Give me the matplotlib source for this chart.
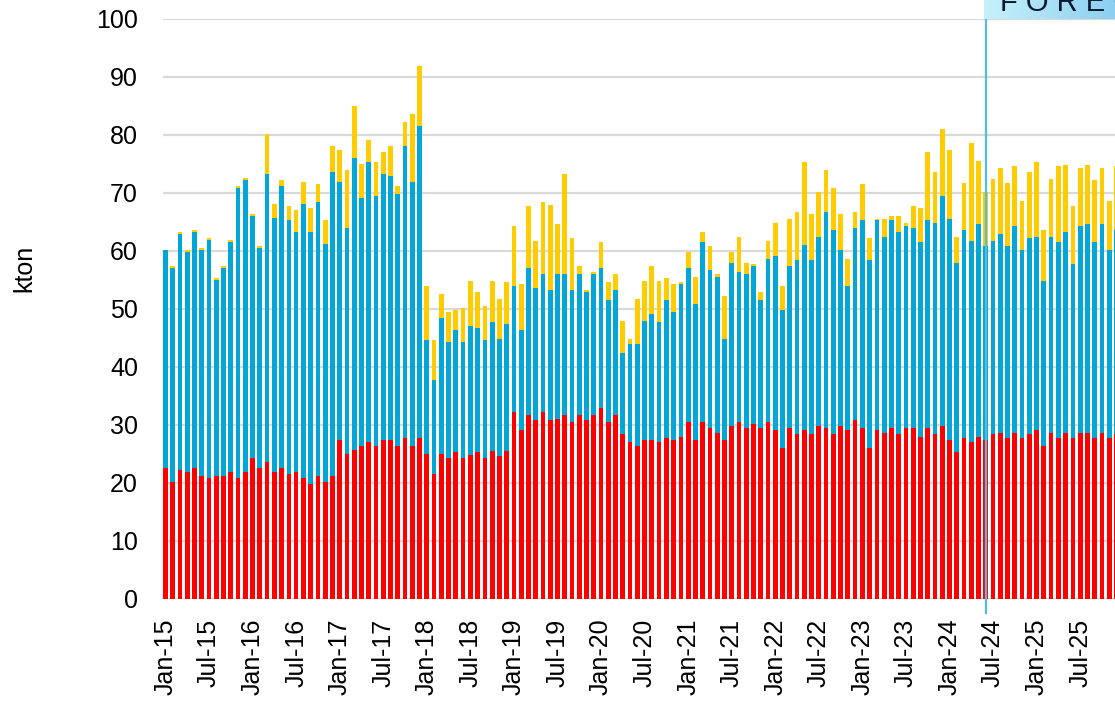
import numpy as np
import pandas as pd
import matplotlib
matplotlib.use("Agg")
import matplotlib.pyplot as plt
from matplotlib.colors import LinearSegmentedColormap

plt.rcParams['font.family'] = ['Liberation Sans', 'DejaVu Sans']

# monthly categories Jan-15 .. Dec-25
months = list(pd.date_range('2015-01-01', periods=132, freq='MS').strftime('%b-%y'))
forecast_start = 'Jun-24'

# bottom segment (red), kton
red = [22.6, 20.2, 22.2, 21.9, 22.6, 21.2, 20.9, 21.2, 21.2, 21.9, 20.9, 21.9,
       24.3, 22.6, 23.6, 21.9, 22.6, 21.6, 21.9, 20.9, 19.8, 21.2, 20.2, 21.2,
       27.4, 25.0, 25.7, 26.4, 27.1, 26.4, 27.4, 27.4, 26.4, 27.8, 26.4, 27.8,
       25.0, 21.6, 25.0, 24.3, 25.3, 24.3, 24.9, 25.3, 24.3, 25.6, 24.6, 25.6,
       32.2, 29.1, 31.8, 30.8, 32.2, 30.8, 31.1, 31.8, 30.5, 31.8, 30.8, 31.8,
       32.9, 30.5, 31.8, 28.4, 27.0, 26.3, 27.4, 27.4, 27.0, 27.7, 27.4, 28.0,
       30.5, 27.4, 30.5, 29.4, 28.7, 27.4, 29.8, 30.5, 29.4, 30.1, 29.4, 30.5,
       29.1, 26.0, 29.4, 28.4, 29.1, 28.4, 29.8, 29.4, 28.4, 29.8, 29.1, 30.8,
       29.4, 26.0, 29.1, 28.7, 29.4, 28.4, 29.4, 29.4, 28.0, 29.4, 28.4, 29.8,
       27.4, 25.3, 27.7, 27.0, 28.0, 27.4, 28.4, 28.7, 27.7, 28.7, 27.7, 28.4,
       29.1, 26.3, 28.7, 27.7, 28.7, 27.7, 28.7, 28.7, 27.7, 28.7, 27.7, 28.4]

# middle segment (blue)
blue = [37.6, 36.9, 40.7, 37.9, 40.7, 39.0, 41.0, 33.8, 35.9, 39.7, 50.0, 50.3,
        41.7, 37.9, 49.7, 43.8, 48.6, 43.7, 41.4, 47.2, 43.5, 47.2, 41.0, 52.4,
        44.5, 39.0, 50.3, 42.7, 48.2, 43.0, 45.9, 45.5, 43.4, 50.3, 45.5, 53.8,
        19.7, 16.2, 23.4, 20.0, 21.0, 20.0, 22.1, 21.4, 20.3, 22.1, 20.3, 21.8,
        21.7, 17.2, 25.2, 22.8, 23.8, 22.4, 24.9, 24.2, 22.7, 24.2, 22.1, 24.2,
        24.1, 21.0, 21.4, 14.1, 16.9, 17.6, 20.6, 21.7, 20.7, 23.8, 22.0, 26.3,
        26.5, 23.4, 31.0, 27.3, 26.9, 17.5, 28.2, 25.8, 26.6, 27.3, 22.1, 28.2,
        30.0, 23.8, 28.0, 30.0, 32.0, 30.0, 32.7, 37.3, 35.2, 30.3, 24.8, 33.1,
        35.9, 32.4, 36.2, 33.8, 35.9, 34.8, 34.9, 34.5, 33.5, 35.9, 36.5, 39.6,
        38.2, 32.7, 35.9, 34.8, 36.6, 33.4, 33.4, 34.2, 33.1, 35.6, 32.4, 33.8,
        33.4, 28.6, 33.8, 33.8, 34.5, 30.0, 35.6, 35.9, 33.8, 35.9, 32.4, 35.2]

# top segment (yellow)
yellow = [0.0, 0.3, 0.4, 0.4, 0.3, 0.3, 0.3, 0.3, 0.3, 0.3, 0.3, 0.4,
          0.4, 0.4, 6.9, 2.4, 1.0, 2.5, 3.8, 3.8, 4.2, 3.2, 4.1, 4.5,
          5.5, 10.0, 9.0, 5.9, 3.8, 5.9, 3.8, 5.2, 1.4, 4.1, 11.7, 10.3,
          9.3, 6.9, 4.2, 5.1, 3.5, 5.8, 7.9, 6.2, 5.9, 7.2, 6.9, 7.2,
          10.4, 8.0, 10.7, 8.2, 12.4, 14.8, 8.6, 17.2, 9.0, 1.4, 0.3, 0.3,
          4.5, 3.1, 2.8, 5.5, 1.0, 7.9, 6.9, 8.3, 7.2, 3.8, 4.9, 0.3,
          2.8, 4.8, 1.7, 4.1, 0.4, 7.3, 1.8, 6.2, 2.0, 0.3, 1.4, 3.1,
          5.8, 4.1, 8.2, 8.3, 14.2, 7.9, 7.6, 7.2, 7.2, 6.2, 4.8, 2.8,
          6.2, 3.8, 0.3, 3.1, 0.7, 2.8, 0.6, 3.8, 5.9, 11.7, 8.7, 11.7,
          11.8, 4.5, 8.2, 16.9, 11.0, 9.3, 10.7, 11.4, 11.0, 10.3, 8.6, 11.4,
          12.8, 8.7, 10.0, 13.1, 11.7, 10.0, 10.0, 10.3, 10.7, 9.7, 8.6, 11.0]

W, H = 1115, 701
fig = plt.figure(figsize=(W / 100, H / 100), dpi=100)
ax = fig.add_axes([163 / W, 102 / H, (W - 163) / W, 580 / H])

x = np.arange(len(months))
red = np.array(red)
blue = np.array(blue)
yellow = np.array(yellow)
ax.bar(x, red, width=0.65, color='#ff0000', zorder=2)
ax.bar(x, blue, width=0.65, bottom=red, color='#04a5d7', zorder=2)
ax.bar(x, yellow, width=0.65, bottom=red + blue, color='#ffcc00', zorder=2)

ax.set_xlim(-0.34, 130.8)
ax.set_ylim(0, 100)
ax.set_yticks(range(0, 101, 10))
ax.set_xticks(x[::6])
ax.set_xticklabels(months[::6], rotation=90)
ax.yaxis.grid(True, color='#d9d9d9', lw=1.6, zorder=0)
ax.set_axisbelow(True)
for s in ax.spines.values():
    s.set_visible(False)
ax.tick_params(axis='y', length=0, pad=18, labelsize=18)
ax.tick_params(axis='x', length=0, pad=14, labelsize=18)

# forecast divider
fx = months.index(forecast_start)
ax.axvline(fx, ymin=-14 / 580, ymax=1.0, color='#4fbde6', lw=1.6,
           clip_on=False, zorder=3)

fig.text(24 / W, 1 - 268 / H, 'kton', rotation=90, ha='center', va='center',
         fontsize=18)

# forecast banner (cut off at the top/right edge)
bx = fig.add_axes([984 / W, (H - 19) / H, (W - 984) / W, 19 / H])
cmap = LinearSegmentedColormap.from_list('fc', ['#c6f1fc', '#8ccff0'])
bx.imshow(np.linspace(0, 1, 256).reshape(1, -1), aspect='auto', cmap=cmap)
bx.axis('off')
fig.text(1000 / W, (H - 11) / H, 'F O R E C A S T', fontsize=21,
         color='#0b1a2e', ha='left', va='baseline')

fig.savefig('out.png', dpi=100)
